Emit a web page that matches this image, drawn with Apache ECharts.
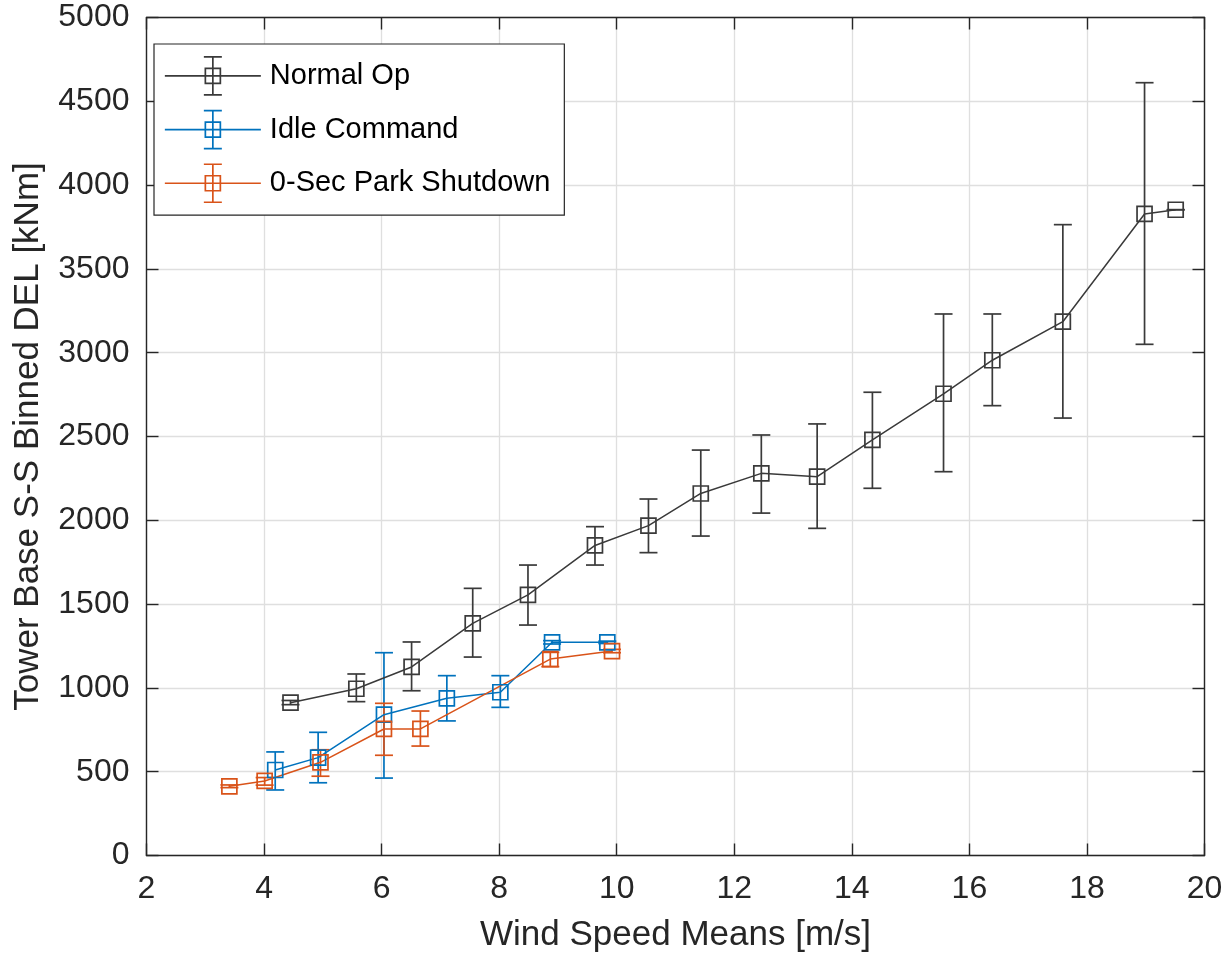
<!DOCTYPE html>
<html>
<head>
<meta charset="utf-8">
<script src="https://cdn.jsdelivr.net/npm/echarts@6/dist/echarts.min.js"></script>
<style>
html,body{margin:0;padding:0;background:#fff;}
#c{width:1228px;height:958px;}
</style>
</head>
<body>
<div id="c"></div>
<script>
// ---- data ----
const seriesNames = ['Normal Op', 'Idle Command', '0-Sec Park Shutdown'];

const normalX  = [4.45, 5.57, 6.51, 7.55, 8.49, 9.63, 10.54, 11.43, 12.46, 13.41, 14.35, 15.56, 16.39, 17.59, 18.98, 19.51];
const normalY  = [912, 995, 1125, 1385, 1555, 1850, 1968, 2160, 2280, 2260, 2480, 2755, 2955, 3185, 3828, 3853];
const normalLo = [900, 918, 983, 1184, 1375, 1733, 1807, 1906, 2043, 1952, 2191, 2290, 2684, 2610, 3050, 3853];
const normalHi = [925, 1083, 1274, 1594, 1733, 1962, 2127, 2419, 2509, 2575, 2764, 3231, 3231, 3764, 4611, 3853];

const idleX  = [4.19, 4.92, 6.04, 7.11, 8.02, 8.90, 9.84];
const idleY  = [510, 584, 840, 938, 974, 1272, 1272];
const idleLo = [391, 434, 462, 803, 884, 1262, 1265];
const idleHi = [618, 735, 1210, 1073, 1073, 1282, 1279];

const parkX  = [3.41, 4.01, 4.96, 6.04, 6.66, 8.87, 9.92];
const parkY  = [413, 445, 556, 755, 755, 1172, 1220];
const parkLo = [405, 420, 473, 598, 653, 1127, 1210];
const parkHi = [421, 465, 631, 908, 862, 1212, 1230];

const xTicks = [2, 4, 6, 8, 10, 12, 14, 16, 18, 20];
const yTicks = [0, 500, 1000, 1500, 2000, 2500, 3000, 3500, 4000, 4500, 5000];

// ---- styling ----
const colors = ['#3a3a3a', '#0072BD', '#D95319'];
const axisColor = '#262626';
const gridColor = '#dfdfdf';
const FONT = "'Liberation Sans', Arial, Helvetica, sans-serif";

function zip(xs, ys) { return xs.map((x, i) => [x, ys[i]]); }
function zip3(xs, lo, hi) { return xs.map((x, i) => [x, lo[i], hi[i]]); }

const sets = [
  {x: normalX, y: normalY, lo: normalLo, hi: normalHi},
  {x: idleX, y: idleY, lo: idleLo, hi: idleHi},
  {x: parkX, y: parkY, lo: parkLo, hi: parkHi}
];

function errRender(color) {
  return function (params, api) {
    const x = api.value(0), lo = api.value(1), hi = api.value(2);
    const pLo = api.coord([x, lo]);
    const pHi = api.coord([x, hi]);
    const hw = 9;
    const style = {stroke: color, lineWidth: 1.7, fill: null};
    return {
      type: 'group',
      children: [
        {type: 'line', shape: {x1: pLo[0], y1: pLo[1], x2: pHi[0], y2: pHi[1]}, style: style},
        {type: 'line', shape: {x1: pHi[0] - hw, y1: pHi[1], x2: pHi[0] + hw, y2: pHi[1]}, style: style},
        {type: 'line', shape: {x1: pLo[0] - hw, y1: pLo[1], x2: pLo[0] + hw, y2: pLo[1]}, style: style}
      ]
    };
  };
}

const series = [];
sets.forEach((s, i) => {
  series.push({
    name: seriesNames[i],
    type: 'line',
    data: zip(s.x, s.y),
    symbol: 'rect',
    symbolSize: 15,
    showAllSymbol: true,
    lineStyle: {color: colors[i], width: 1.5},
    itemStyle: {color: 'rgba(255,255,255,0)', borderColor: colors[i], borderWidth: 1.7},
    emphasis: {disabled: true},
    z: 3,
    animation: false
  });
  series.push({
    name: seriesNames[i],
    type: 'custom',
    data: zip3(s.x, s.lo, s.hi),
    renderItem: errRender(colors[i]),
    encode: {x: 0, y: [1, 2]},
    z: 2,
    animation: false,
    silent: true
  });
});

const iconPath = 'path://M0,19 L40.5,19 M55.5,19 L96,19 M40.5,11.5 L55.5,11.5 L55.5,26.5 L40.5,26.5 Z M48,0 L48,38 M39,0 L57,0 M39,38 L57,38 M40.5,19 L55.5,19';

const axisLineStyle = {color: axisColor, width: 1.4};

const option = {
  backgroundColor: '#ffffff',
  animation: false,
  grid: {left: 146.5, right: 23.5, top: 17.5, bottom: 102.5, containLabel: false},
  legend: {
    orient: 'vertical',
    left: 154,
    top: 44,
    padding: [12, 14, 12, 10],
    itemWidth: 96,
    itemHeight: 38,
    itemGap: 14,
    backgroundColor: '#ffffff',
    borderColor: axisColor,
    borderWidth: 1.2,
    textStyle: {fontFamily: FONT, fontSize: 29, color: '#000000', padding: [0, 0, 0, 4]},
    data: seriesNames.map((n, i) => ({
      name: n,
      icon: iconPath,
      itemStyle: {color: 'rgba(255,255,255,0)', borderColor: colors[i], borderWidth: 1.7}
    })),
    selectedMode: false
  },
  xAxis: [{
    type: 'value',
    min: 2, max: 20, interval: 2,
    name: 'Wind Speed Means [m/s]',
    nameLocation: 'middle',
    nameGap: 62,
    nameTextStyle: {fontFamily: FONT, fontSize: 35, color: axisColor},
    axisLine: {show: true, onZero: false, lineStyle: axisLineStyle},
    axisTick: {show: true, inside: true, length: 12, lineStyle: axisLineStyle},
    axisLabel: {fontFamily: FONT, fontSize: 32, color: axisColor, margin: 18,
                formatter: v => (xTicks.indexOf(v) >= 0 ? String(v) : '')},
    splitLine: {show: true, lineStyle: {color: gridColor, width: 1.3}}
  }, {
    type: 'value', position: 'top',
    min: 2, max: 20, interval: 2,
    axisLine: {show: true, onZero: false, lineStyle: axisLineStyle},
    axisTick: {show: true, inside: true, length: 12, lineStyle: axisLineStyle},
    axisLabel: {show: false},
    splitLine: {show: false}
  }],
  yAxis: [{
    type: 'value',
    min: 0, max: 5000, interval: 500,
    name: 'Tower Base S-S Binned DEL [kNm]',
    nameLocation: 'middle',
    nameGap: 101,
    nameTextStyle: {fontFamily: FONT, fontSize: 35, color: axisColor},
    axisLine: {show: true, onZero: false, lineStyle: axisLineStyle},
    axisTick: {show: true, inside: true, length: 12, lineStyle: axisLineStyle},
    axisLabel: {fontFamily: FONT, fontSize: 32, color: axisColor, margin: 17,
                formatter: v => (yTicks.indexOf(v) >= 0 ? String(v) : '')},
    splitLine: {show: true, lineStyle: {color: gridColor, width: 1.3}}
  }, {
    type: 'value', position: 'right',
    min: 0, max: 5000, interval: 500,
    axisLine: {show: true, onZero: false, lineStyle: axisLineStyle},
    axisTick: {show: true, inside: true, length: 12, lineStyle: axisLineStyle},
    axisLabel: {show: false},
    splitLine: {show: false}
  }],
  series: series
};

const chart = echarts.init(document.getElementById('c'), null, {renderer: 'canvas'});
chart.setOption(option);
</script>
</body>
</html>
